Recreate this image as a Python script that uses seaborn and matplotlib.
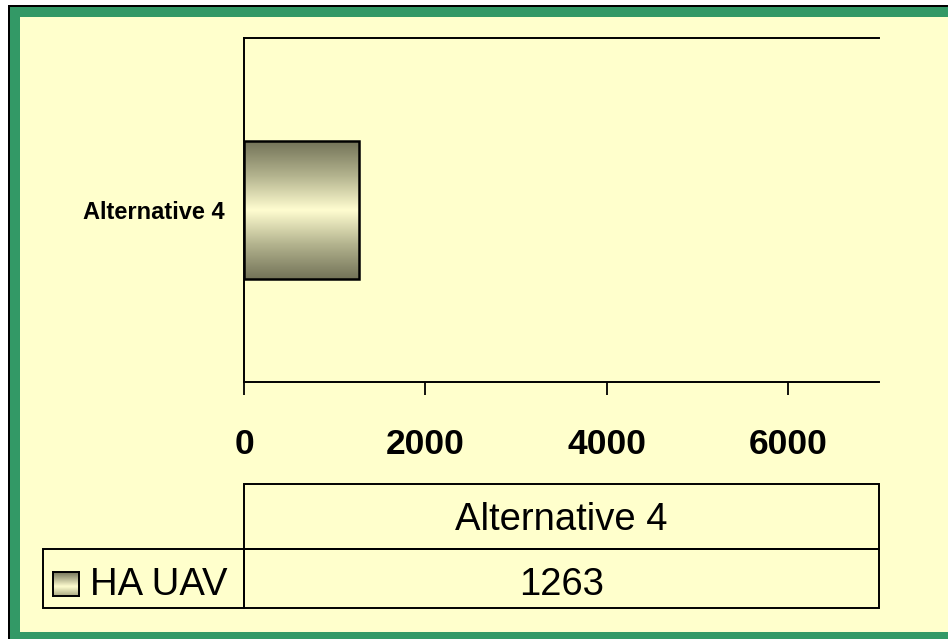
import matplotlib
matplotlib.use("Agg")
import matplotlib.pyplot as plt
import seaborn as sns
import numpy as np
import pandas as pd
from matplotlib.patches import Rectangle
from matplotlib.colors import LinearSegmentedColormap

# ---- data ----
categories = ["Alternative 4"]
series_name = "HA UAV"
values = [1263]
x_ticks = [0, 2000, 4000, 6000]
x_max = 7000

sns.set_theme(style="white")
plt.rcParams['font.family'] = ['Liberation Sans', 'DejaVu Sans']

W, H = 948, 639
fig = plt.figure(figsize=(W / 100, H / 100), dpi=100)
fig.patch.set_facecolor('white')

def fx(px):
    return px / W

def fy(py):
    return 1 - py / H

cream = '#FFFFCC'
green = '#339966'

# frame
fig.add_artist(Rectangle((fx(8), 0), 1 - fx(8), fy(5), transform=fig.transFigure,
                         facecolor='black', edgecolor='none', zorder=0))
fig.add_artist(Rectangle((fx(10), 0), 1 - fx(10), fy(7), transform=fig.transFigure,
                         facecolor=green, edgecolor='none', zorder=0))
fig.add_artist(Rectangle((fx(20), fy(632)), 1 - fx(20), fy(17) - fy(632), transform=fig.transFigure,
                         facecolor=cream, edgecolor='none', zorder=0))

cmap = LinearSegmentedColormap.from_list(
    "bar", [(0.0, '#737358'), (0.25, '#B3B38E'), (0.5, '#FFFDD0'), (0.75, '#B3B38E'), (1.0, '#737358')])

ax = fig.add_axes([fx(244), fy(382), fx(879) - fx(244), fy(38) - fy(382)])
ax.set_facecolor('none')

df = pd.DataFrame({"category": categories, "value": values})
sns.barplot(data=df, x="value", y="category", orient="h", width=0.4, color='#CCCCA0',
            edgecolor='black', linewidth=1.8, ax=ax)

grad = np.linspace(0, 1, 256).reshape(-1, 1)
for bar in list(ax.patches):
    x0, y0 = bar.get_x(), bar.get_y()
    w, h = bar.get_width(), bar.get_height()
    im = ax.imshow(grad, cmap=cmap, extent=[x0, x0 + w, y0, y0 + h], aspect='auto',
                   zorder=bar.get_zorder() - 0.1, interpolation='bicubic')
    im.set_clip_path(bar)
    bar.set_facecolor('none')

ax.set_xlim(0, x_max)
ax.set_ylim(0.5, -0.5)
ax.set_xticks(x_ticks)
ax.set_xticklabels([str(t) for t in x_ticks], fontweight='bold')
ax.tick_params(axis='x', direction='out', length=9, width=1.3, colors='black',
               labelsize=25.5, pad=24, bottom=True)
ax.tick_params(axis='y', length=0, labelsize=17, pad=14, colors='black')
for lab in ax.get_yticklabels():
    lab.set_fontweight('bold')
ax.set_xlabel('')
ax.set_ylabel('')
for s in ['top', 'left', 'bottom']:
    ax.spines[s].set_visible(True)
    ax.spines[s].set_color('black')
    ax.spines[s].set_linewidth(1.4)
ax.spines['right'].set_visible(False)

# ---- data table ----
lw = 1.4
fig.add_artist(Rectangle((fx(244), fy(549)), fx(879) - fx(244), fy(484) - fy(549),
                         transform=fig.transFigure, fill=False, edgecolor='black', lw=lw))
fig.add_artist(Rectangle((fx(43), fy(608)), fx(244) - fx(43), fy(549) - fy(608),
                         transform=fig.transFigure, fill=False, edgecolor='black', lw=lw))
fig.add_artist(Rectangle((fx(244), fy(608)), fx(879) - fx(244), fy(549) - fy(608),
                         transform=fig.transFigure, fill=False, edgecolor='black', lw=lw))

fig.text(fx(561), fy(530), categories[0], ha='center', va='baseline',
         fontsize=27.5, color='black')
fig.text(fx(562), fy(595), f"{values[0]}", ha='center', va='baseline',
         fontsize=27.5, color='black')
fig.text(fx(90), fy(595), series_name, ha='left', va='baseline', fontsize=27.5, color='black')

# legend key
kax = fig.add_axes([fx(53), fy(596), fx(79) - fx(53), fy(572) - fy(596)])
kax.imshow(grad, cmap=LinearSegmentedColormap.from_list(
    "key", [(0.0, '#747459'), (0.6, '#FFFDD0'), (1.0, '#A8A880')]), aspect='auto',
    interpolation='bicubic')
kax.set_xticks([])
kax.set_yticks([])
for s in kax.spines.values():
    s.set_visible(True)
    s.set_color('black')
    s.set_linewidth(1.4)

fig.savefig("out.png", dpi=100, facecolor=fig.get_facecolor())
